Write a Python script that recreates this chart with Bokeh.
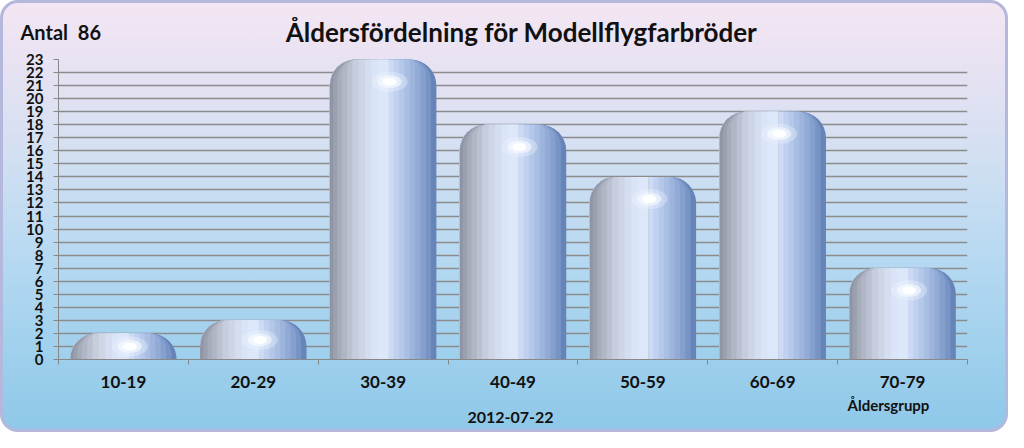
from bokeh.plotting import figure
from bokeh.models import ColumnDataSource, Range1d, FixedTicker, Label
from bokeh.transform import dodge
from bokeh.embed import file_html
from bokeh.resources import INLINE

# data
groups = ["10-19", "20-29", "30-39", "40-49", "50-59", "60-69", "70-79"]
counts = [2, 3, 23, 18, 14, 19, 7]
y_ticks = list(range(0, 24))
title_text = "Åldersfördelning för Modellflygfarbröder"
date_text = "2012-07-22"
xlabel_text = "Åldersgrupp"

FONT = "Lato"
BAR_W = 0.82
BAR_PX = BAR_W * 909 / 7
RADIUS = 26

# colour across a bar, left edge (0) to right edge (1)
bar_stops = [(0.0, "#8a90a0"), (0.1, "#a9afbd"), (0.25, "#c8cfde"), (0.4, "#d9e3f6"),
             (0.5, "#dde8fc"), (0.6, "#c6d6f3"), (0.75, "#a3b9e0"), (0.9, "#7f9bcb"),
             (1.0, "#5f7db3")]


def shade_at(t):
    for (t0, c0), (t1, c1) in zip(bar_stops, bar_stops[1:]):
        if t0 <= t <= t1:
            f = (t - t0) / (t1 - t0)
            a = [int(c0[i:i + 2], 16) for i in (1, 3, 5)]
            b = [int(c1[i:i + 2], 16) for i in (1, 3, 5)]
            return "#" + "".join(f"{round(x + (y - x) * f):02x}" for x, y in zip(a, b))
    return bar_stops[-1][1]


# nested strips: right half first (shrinking from the right), then left half
strips = []
rights = [1.0, 0.95, 0.9, 0.85, 0.8, 0.75, 0.7, 0.65, 0.6, 0.55]
for r0, r1 in zip(rights, rights[1:] + [0.5]):
    strips.append((0.0, r0, shade_at((r0 + r1) / 2)))
lefts = [0.0, 0.03, 0.07, 0.11, 0.16, 0.21, 0.27, 0.33, 0.39, 0.45]
for l0, l1 in zip(lefts, lefts[1:] + [0.5]):
    strips.append((l0, 0.55, shade_at((l0 + l1) / 2)))

# one slot per age group on a plain numeric axis
slot = [i + 0.5 for i in range(len(groups))]
edges = list(range(len(groups) + 1))

source = ColumnDataSource(data=dict(
    x=slot,
    group=groups,
    count=counts,
    hl=[max(c - 1.7, c * 0.5) for c in counts],
))

p = figure(
    width=1008, height=432,
    x_range=Range1d(0, len(groups)), y_range=Range1d(0, 23),
    toolbar_location=None, output_backend="svg",
    min_border_left=55, min_border_right=44, min_border_top=56, min_border_bottom=76,
)
p.background_fill_color = None
p.border_fill_color = None
p.outline_line_color = None
p.styles = {
    "background": "linear-gradient(to bottom, #f4e6f3 0%, #e8e2f2 14%, #d3e0f2 35%, "
                  "#b4d8f1 62%, #9ccfec 85%, #8fc8e8 100%)",
    "border": "3px solid #b4b8dc",
    "border-radius": "18px",
    "box-sizing": "border-box",
}

# cylinder-ish bars
for a, b, col in strips:
    off = ((a + b) / 2 - 0.5) * BAR_W
    tl = int(round(max(RADIUS - a * BAR_PX, 0)))
    tr = int(round(max(RADIUS - (1 - b) * BAR_PX, 0)))
    p.vbar(x=dodge("x", off), top="count", bottom=0,
           width=(b - a) * BAR_W, source=source, fill_color=col, line_color=None,
           border_radius=(tl, tr, 0, 0))

# specular highlight
hx = dodge("x", 0.05)
p.ellipse(x=hx, y="hl", width=36, height=20, width_units="screen", height_units="screen",
          source=source, fill_color="#f2f7ff", fill_alpha=0.35, line_color=None)
p.ellipse(x=hx, y="hl", width=24, height=13, width_units="screen", height_units="screen",
          source=source, fill_color="#f8fbff", fill_alpha=0.6, line_color=None)
p.ellipse(x=hx, y="hl", width=14, height=8, width_units="screen", height_units="screen",
          source=source, fill_color="#ffffff", fill_alpha=0.95, line_color=None)

# y axis
yax = p.yaxis[0]
yax.ticker = FixedTicker(ticks=y_ticks)
yax.minor_tick_line_color = None
yax.major_tick_in = 0
yax.major_tick_out = 5
yax.axis_line_color = "#888888"
yax.major_tick_line_color = "#888888"
yax.major_label_standoff = 10
yax.major_label_text_font = FONT
yax.major_label_text_font_style = "bold"
yax.major_label_text_font_size = "15px"
yax.major_label_text_color = "#111111"
p.ygrid.grid_line_color = "#8c8c8c"
p.ygrid.grid_line_width = 1.6
p.ygrid.ticker = FixedTicker(ticks=y_ticks)
p.xgrid.grid_line_color = None

# x axis: labels at slot centres, small tick marks between groups
xax = p.xaxis[0]
xax.ticker = FixedTicker(ticks=slot, minor_ticks=edges)
xax.major_label_overrides = {x: g for x, g in zip(slot, groups)}
xax.major_tick_line_color = None
xax.major_tick_in = 0
xax.major_tick_out = 0
xax.minor_tick_in = 0
xax.minor_tick_out = 5
xax.minor_tick_line_color = "#888888"
xax.axis_line_color = "#888888"
xax.major_label_standoff = 11
xax.major_label_text_font = FONT
xax.major_label_text_font_style = "bold"
xax.major_label_text_font_size = "17px"
xax.major_label_text_color = "#111111"


def txt(text, x, y, size, align):
    return Label(x=x, y=y, x_units="screen", y_units="screen", text=text,
                 text_font=FONT, text_font_style="bold", text_font_size=size,
                 text_align=align, text_baseline="middle", text_color="#111111")


# texts in the side panels (each label stacks outward from the frame)
p.add_layout(txt(f"Antal\u00a0\u00a0{sum(counts)}", -38, 28, "20px", "left"), "above")
p.add_layout(txt(title_text, 463, 4, "26px", "center"), "above")
p.add_layout(txt(date_text, 452, -16, "16px", "center"), "below")
p.add_layout(txt(xlabel_text, 830, 15, "15px", "center"), "below")

open("out.html", "w").write(file_html(p, INLINE))
